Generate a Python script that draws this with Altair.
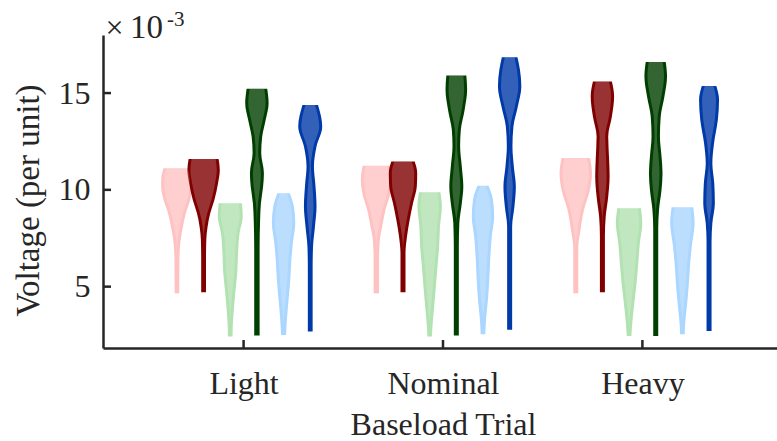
import altair as alt
import pandas as pd

# ---------------- data (values in units of 1e-3 per unit) ----------------
trials = ["Light", "Nominal", "Heavy"]
series = ["Series 1", "Series 2", "Series 3", "Series 4", "Series 5", "Series 6"]
colors = ["#FFC2C2", "#800000", "#B2E2B2", "#003F00", "#AAD6FF", "#0039A8"]
y_ticks = [5, 10, 15]
x_ticks = [1, 2, 3]

# violin profiles: voltage level (v) and relative half-width (w, density)
light_s1_v = [11.12, 10.69, 10.17, 9.48, 8.80, 8.10, 7.42, 6.38, 4.66]
light_s1_w = [13.3, 15.5, 15.8, 13.3, 9.0, 6.0, 3.7, 2.5, 2.3]
light_s2_v = [11.60, 11.03, 10.35, 9.48, 8.80, 8.10, 7.42, 6.38, 4.71]
light_s2_w = [15.0, 16.2, 14.5, 10.8, 6.7, 4.0, 2.7, 2.4, 2.4]
light_s3_v = [9.31, 8.62, 7.76, 6.73, 5.70, 4.66, 3.63, 2.94, 2.42]
light_s3_w = [11.7, 12.5, 9.3, 7.8, 7.0, 5.0, 3.3, 2.5, 2.3]
light_s4_v = [15.22, 14.48, 13.62, 12.75, 11.90, 10.86, 10.17, 9.31, 8.45, 7.00, 2.47]
light_s4_w = [10.3, 11.7, 8.8, 5.3, 4.3, 7.0, 6.2, 4.0, 3.2, 2.7, 2.7]
light_s5_v = [9.83, 9.14, 8.28, 7.42, 6.38, 5.35, 4.32, 3.28, 2.50]
light_s5_w = [6.2, 10.3, 11.7, 9.7, 7.8, 6.7, 5.0, 3.3, 2.5]
light_s6_v = [14.39, 13.27, 12.24, 11.20, 10.35, 9.14, 8.10, 7.07, 6.00, 2.68]
light_s6_w = [7.8, 12.0, 6.3, 3.7, 5.0, 6.3, 4.7, 2.8, 2.4, 2.4]

nominal_s1_v = [11.24, 10.52, 9.83, 8.97, 8.10, 7.42, 6.38, 4.66]
nominal_s1_w = [13.7, 15.5, 14.0, 9.2, 5.8, 3.5, 2.7, 2.7]
nominal_s2_v = [11.46, 10.86, 10.17, 9.31, 8.45, 7.59, 6.73, 4.71]
nominal_s2_w = [11.7, 14.2, 13.8, 10.0, 6.7, 4.0, 2.5, 2.5]
nominal_s3_v = [9.88, 9.14, 8.10, 7.07, 6.04, 5.00, 3.97, 2.94, 2.42]
nominal_s3_w = [10.7, 12.2, 10.3, 9.5, 7.8, 6.2, 4.5, 2.8, 2.3]
nominal_s4_v = [15.91, 15.17, 14.13, 13.10, 12.24, 11.20, 10.17, 9.31, 8.28, 7.00, 2.47]
nominal_s4_w = [10.0, 10.8, 8.3, 4.5, 3.8, 5.5, 7.0, 5.5, 3.0, 2.5, 2.5]
nominal_s5_v = [10.21, 9.48, 8.62, 7.59, 6.38, 5.35, 4.32, 3.28, 2.54]
nominal_s5_w = [5.5, 10.0, 11.2, 8.8, 7.2, 6.3, 5.0, 3.0, 2.3]
nominal_s6_v = [16.85, 16.20, 15.34, 14.30, 13.27, 12.24, 11.20, 10.17, 9.14, 8.10, 2.77]
nominal_s6_w = [7.8, 10.3, 11.7, 8.2, 3.8, 2.8, 4.2, 6.2, 4.8, 2.5, 2.5]

heavy_s1_v = [11.64, 10.86, 10.00, 8.97, 7.93, 7.00, 4.66]
heavy_s1_w = [14.2, 16.2, 14.2, 8.3, 4.8, 2.5, 2.5]
heavy_s2_v = [15.60, 14.82, 13.79, 12.75, 11.55, 10.69, 9.65, 8.62, 7.60, 4.71]
heavy_s2_w = [9.5, 11.7, 9.5, 5.8, 6.7, 7.2, 5.8, 3.3, 2.5, 2.5]
heavy_s3_v = [9.05, 8.28, 7.25, 6.21, 5.18, 4.14, 3.11, 2.45]
heavy_s3_w = [11.8, 13.2, 10.8, 9.2, 7.5, 5.2, 3.2, 2.3]
heavy_s4_v = [16.60, 15.86, 14.82, 13.79, 12.75, 11.72, 10.86, 10.00, 8.97, 8.00, 2.45]
heavy_s4_w = [10.0, 11.3, 8.7, 5.0, 4.2, 5.8, 6.8, 5.8, 3.3, 2.5, 2.5]
heavy_s5_v = [9.10, 8.28, 7.25, 6.21, 5.18, 4.14, 3.11, 2.54]
heavy_s5_w = [10.8, 12.2, 9.8, 7.8, 6.5, 4.8, 2.8, 2.3]
heavy_s6_v = [15.37, 14.65, 13.62, 12.41, 11.38, 10.35, 9.31, 8.28, 7.30, 2.71]
heavy_s6_w = [7.3, 10.0, 8.8, 5.0, 3.3, 5.2, 5.8, 3.3, 2.5, 2.5]

profiles = [
    [(light_s1_v, light_s1_w), (light_s2_v, light_s2_w), (light_s3_v, light_s3_w),
     (light_s4_v, light_s4_w), (light_s5_v, light_s5_w), (light_s6_v, light_s6_w)],
    [(nominal_s1_v, nominal_s1_w), (nominal_s2_v, nominal_s2_w), (nominal_s3_v, nominal_s3_w),
     (nominal_s4_v, nominal_s4_w), (nominal_s5_v, nominal_s5_w), (nominal_s6_v, nominal_s6_w)],
    [(heavy_s1_v, heavy_s1_w), (heavy_s2_v, heavy_s2_w), (heavy_s3_v, heavy_s3_w),
     (heavy_s4_v, heavy_s4_w), (heavy_s5_v, heavy_s5_w), (heavy_s6_v, heavy_s6_w)],
]

# ---------------- layout / style ----------------
FONT = "Liberation Serif"
INK = "#262626"
W, H = 674, 313
X_DOMAIN = [0.295, 3.675]
Y_DOMAIN = [1.83, 18.0]
SPACING = 0.1337          # distance between violins inside a group
WSCALE = 1 / 199.4        # half-width -> x units
RIM = 3.0                 # solid rim around the lighter interior

rows = []
for ti, trial in enumerate(trials):
    for si, s in enumerate(series):
        vs, ws = profiles[ti][si]
        pos = (ti + 1) + (si - 2.5) * SPACING
        for v, w in zip(vs, ws):
            wi = max(w - RIM, 0.0)
            rows.append(dict(trial=trial, series=s, vid=ti * 10 + si, v=v,
                             xl=pos - w * WSCALE, xr=pos + w * WSCALE,
                             il=pos - wi * WSCALE, ir=pos + wi * WSCALE))
df = pd.DataFrame(rows)

xs = alt.Scale(domain=X_DOMAIN, nice=False, zero=False)
ys = alt.Scale(domain=Y_DOMAIN, nice=False, zero=False)

label_expr = "[" + ",".join(f"'{t}'" for t in trials) + "][datum.value - 1]"

x_axis = alt.Axis(values=x_ticks, labelExpr=label_expr, ticks=False, grid=False,
                  domainColor=INK, domainWidth=2.5, labelFont=FONT, labelFontSize=32,
                  labelColor=INK, labelPadding=20, labelFlush=False,
                  title="Baseload Trial", titleFont=FONT, titleFontSize=32,
                  titleFontWeight="normal", titleColor=INK, titleX=340, titleY=86,
                  titleBaseline="alphabetic")
y_axis = alt.Axis(values=y_ticks, ticks=False, grid=False,
                  domainColor=INK, domainWidth=2.5, labelFont=FONT, labelFontSize=32,
                  labelColor=INK, labelPadding=13, labelFlush=False,
                  title="Voltage (per unit)", titleFont=FONT, titleFontSize=33,
                  titleFontWeight="normal", titleColor=INK, titleX=-65, titleY=165,
                  titleBaseline="alphabetic")

color_enc = alt.Color("series:N", scale=alt.Scale(domain=series, range=colors), legend=None)

outer = alt.Chart(df).mark_area(orient="horizontal", interpolate="monotone").encode(
    y=alt.Y("v:Q", scale=ys, axis=y_axis),
    x=alt.X("xl:Q", scale=xs, axis=x_axis),
    x2="xr:Q",
    color=color_enc,
    detail="vid:N",
)
inner = alt.Chart(df).mark_area(orient="horizontal", interpolate="monotone",
                                color="#FFFFFF", opacity=0.2).encode(
    y=alt.Y("v:Q", scale=ys, axis=y_axis),
    x=alt.X("il:Q", scale=xs, axis=x_axis),
    x2="ir:Q",
    detail="vid:N",
)

xt = alt.Chart(pd.DataFrame({"p": x_ticks})).mark_rule(color=INK, strokeWidth=2.5).encode(
    x=alt.X("p:Q", scale=xs, axis=x_axis), y=alt.value(H), y2=alt.value(H - 8))
yt = alt.Chart(pd.DataFrame({"t": y_ticks})).mark_rule(color=INK, strokeWidth=2.5).encode(
    y=alt.Y("t:Q", scale=ys, axis=y_axis), x=alt.value(0), x2=alt.value(8))

one = pd.DataFrame({"a": [0]})
times = alt.Chart(one).mark_text(text="×", font=FONT, fontSize=32, color=INK,
                                 align="left", baseline="alphabetic").encode(
    x=alt.value(2.4), y=alt.value(3))
ten = alt.Chart(one).mark_text(text="10", font=FONT, fontSize=33, color=INK,
                               align="left", baseline="alphabetic").encode(
    x=alt.value(27), y=alt.value(3))
expo = alt.Chart(one).mark_text(text="-3", font=FONT, fontSize=21, color=INK,
                                align="left", baseline="alphabetic").encode(
    x=alt.value(64), y=alt.value(-9))

chart = alt.layer(outer, inner, xt, yt, times, ten, expo).properties(
    width=W, height=H,
    autosize=alt.AutoSizeParams(type="none"),
    padding={"left": 103, "top": 35, "right": 0, "bottom": 93},
    background="white",
).configure_view(stroke=None)

chart.save("out.html", embed_options={"renderer": "svg", "actions": False})
